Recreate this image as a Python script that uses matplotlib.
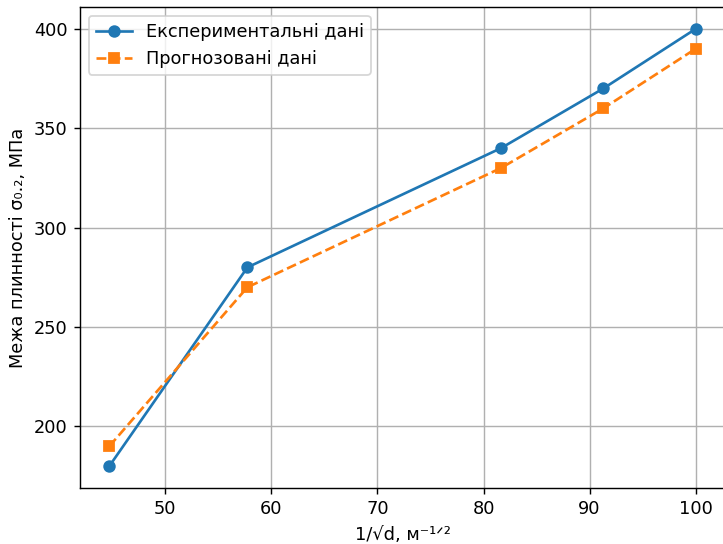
import numpy as np
import matplotlib
matplotlib.use('Agg')
import matplotlib.pyplot as plt

# data
inv_sqrt_d = [44.72, 57.74, 81.65, 91.29, 100.0]
sigma_exp = [180, 280, 340, 370, 400]
sigma_pred = [190, 270, 330, 360, 390]

dpi = 128
W, H = 723, 544
fig = plt.figure(figsize=(W / dpi, H / dpi), dpi=dpi)
ax = fig.add_axes([80 / W, 1 - 488 / H, 645 / W, (488 - 7) / H])

ax.plot(inv_sqrt_d, sigma_exp, 'o-', label='Експериментальні дані')
ax.plot(inv_sqrt_d, sigma_pred, 's--', label='Прогнозовані дані')

ax.set_xlabel('1/√d, м⁻¹ᐟ²')
ax.set_ylabel('Межа плинності σ₀.₂, МПа')
ax.grid(True)
ax.legend(loc='upper left')

plt.savefig('out.png', dpi=dpi)
